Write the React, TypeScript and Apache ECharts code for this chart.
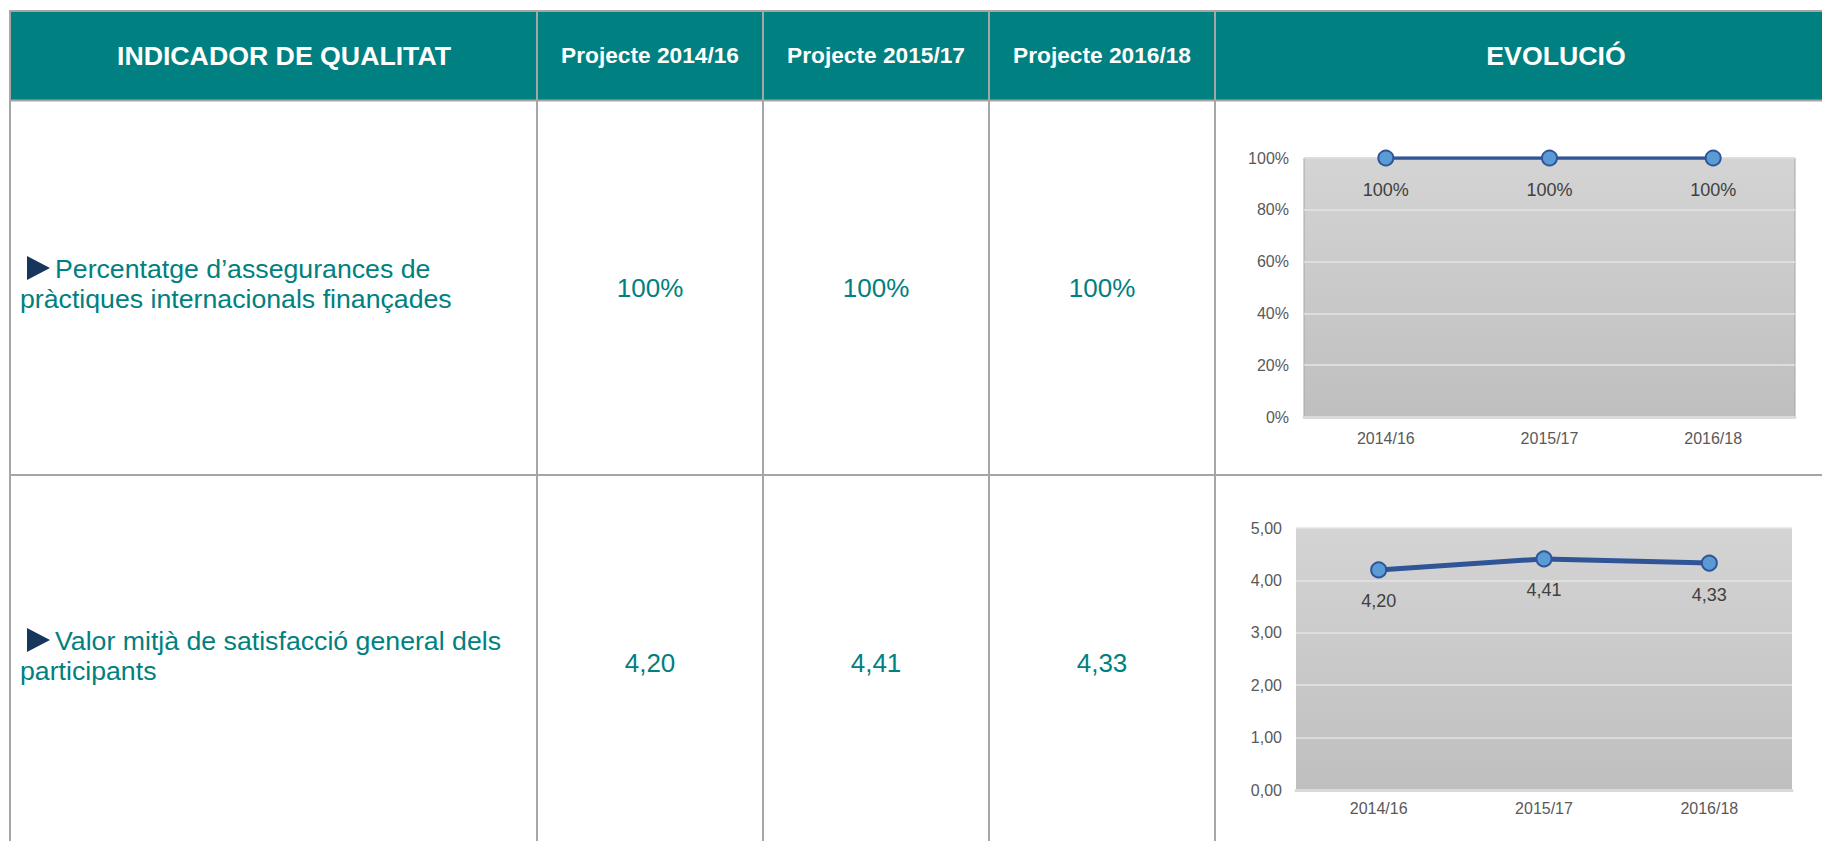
import React, { useEffect, useRef } from "react";
import * as echarts from "echarts";

const categories = ["2014/16", "2015/17", "2016/18"];
const headerLabels = [
  "INDICADOR DE QUALITAT",
  "Projecte 2014/16",
  "Projecte 2015/17",
  "Projecte 2016/18",
  "EVOLUCIÓ",
];
const indicator1Lines = [
  "Percentatge d’assegurances de",
  "pràctiques internacionals finançades",
];
const indicator2Lines = [
  "Valor mitjà de satisfacció general dels",
  "participants",
];
const insuranceValues = [100, 100, 100];
const satisfactionValues = [4.2, 4.41, 4.33];

const FONT = "'Liberation Sans', Arial, Helvetica, sans-serif";
const TEAL = "#008080";
const BORDER = "#a6a6a6";
const LINE_BLUE = "#2f5597";
const MARKER_FILL = "#5b9bd5";

const fmtComma = (v: number) => v.toFixed(2).replace(".", ",");

const colX = [10, 537, 763, 989, 1215, 1830];
const rowY = [11, 100.5, 475, 860];

function text(
  str: string,
  x: number,
  y: number,
  size: number,
  color: string,
  bold: boolean,
  align: string
) {
  return {
    type: "text",
    x,
    y,
    silent: true,
    style: {
      text: str,
      fill: color,
      font: `${bold ? "bold " : ""}${size}px ${FONT}`,
      textAlign: align,
      textVerticalAlign: "middle",
      align,
      verticalAlign: "middle",
    },
  };
}

export default function App() {
  const ref = useRef<HTMLDivElement>(null);

  useEffect(() => {
    if (!ref.current) return;
    const chart = echarts.init(ref.current, undefined, { renderer: "svg" });

    const graphics: any[] = [];
    graphics.push({
      type: "rect",
      silent: true,
      shape: { x: colX[0], y: rowY[0], width: 1822 - colX[0], height: rowY[1] - rowY[0] },
      style: { fill: TEAL },
    });
    rowY.slice(0, 3).forEach((y) => {
      graphics.push({
        type: "line",
        silent: true,
        shape: { x1: colX[0] - 1, y1: y, x2: 1822, y2: y },
        style: { stroke: BORDER, lineWidth: 2 },
      });
    });
    colX.slice(0, 5).forEach((x) => {
      graphics.push({
        type: "line",
        silent: true,
        shape: { x1: x, y1: rowY[0] - 1, x2: x, y2: 841 },
        style: { stroke: BORDER, lineWidth: 2 },
      });
    });
    const headerCenters = [284, 650, 876, 1102, 1556];
    headerLabels.forEach((h, i) => {
      const big = i === 0 || i === 4;
      graphics.push(text(h, headerCenters[i], big ? 56 : 55, big ? 26.7 : 22.7, "#ffffff", true, "center"));
    });

    const rows = [
      { lines: indicator1Lines, base: 278 },
      { lines: indicator2Lines, base: 650 },
    ];
    rows.forEach((r) => {
      graphics.push({
        type: "polygon",
        silent: true,
        shape: {
          points: [
            [27, r.base - 22],
            [27, r.base + 2],
            [50, r.base - 10],
          ],
        },
        style: { fill: "#17365d" },
      });
      graphics.push(text(r.lines[0], 55, r.base - 9.2, 26.7, TEAL, false, "left"));
      graphics.push(text(r.lines[1], 20, r.base + 30 - 9.2, 26.7, TEAL, false, "left"));
    });

    const valueCenters = [650, 876, 1102];
    insuranceValues.forEach((v, i) => {
      graphics.push(text(`${v}%`, valueCenters[i], 288, 26, TEAL, false, "center"));
    });
    satisfactionValues.forEach((v, i) => {
      graphics.push(text(fmtComma(v), valueCenters[i], 663, 26, TEAL, false, "center"));
    });

    const plotBg = {
      type: "linear",
      x: 0,
      y: 0,
      x2: 0,
      y2: 1,
      colorStops: [
        { offset: 0, color: "#d4d4d4" },
        { offset: 1, color: "#bfbfbf" },
      ],
    };

    const axisLabelStyle = { color: "#595959", fontSize: 16, fontFamily: FONT };

    const option: any = {
      animation: false,
      backgroundColor: "#ffffff",
      graphic: { elements: graphics },
      grid: [
        {
          left: 1304,
          top: 158,
          width: 491,
          height: 259,
          show: true,
          backgroundColor: plotBg,
          borderColor: "#a6a6a6",
          borderWidth: 1,
          z: 3,
        },
        {
          left: 1296,
          top: 528,
          width: 496,
          height: 262,
          show: true,
          backgroundColor: plotBg,
          borderWidth: 0,
          z: 3,
        },
      ],
      xAxis: [
        {
          type: "category",
          gridIndex: 0,
          data: categories,
          boundaryGap: true,
          axisTick: { show: false },
          axisLine: { show: true, lineStyle: { color: "#dadada", width: 3 } },
          axisLabel: { ...axisLabelStyle, margin: 13 },
          z: 4,
        },
        {
          type: "category",
          gridIndex: 1,
          data: categories,
          boundaryGap: true,
          axisTick: { show: false },
          axisLine: { show: true, lineStyle: { color: "#dadada", width: 3 } },
          axisLabel: { ...axisLabelStyle, margin: 10 },
          z: 4,
        },
      ],
      yAxis: [
        {
          type: "value",
          gridIndex: 0,
          min: 0,
          max: 100,
          interval: 20,
          axisLine: { show: false },
          axisTick: { show: false },
          axisLabel: { ...axisLabelStyle, margin: 15, formatter: "{value}%" },
          splitLine: { show: true, lineStyle: { color: "#e4e4e4", width: 1.5 } },
          z: 4,
        },
        {
          type: "value",
          gridIndex: 1,
          min: 0,
          max: 5,
          interval: 1,
          axisLine: { show: false },
          axisTick: { show: false },
          axisLabel: { ...axisLabelStyle, margin: 14, formatter: (v: number) => fmtComma(v) },
          splitLine: { show: true, lineStyle: { color: "#e4e4e4", width: 1.5 } },
          z: 4,
        },
      ],
      series: [
        {
          type: "line",
          xAxisIndex: 0,
          yAxisIndex: 0,
          data: insuranceValues,
          symbol: "circle",
          symbolSize: 15,
          lineStyle: { color: LINE_BLUE, width: 3.5 },
          itemStyle: { color: MARKER_FILL, borderColor: LINE_BLUE, borderWidth: 2 },
          label: {
            show: true,
            position: "bottom",
            distance: 14,
            color: "#404040",
            fontSize: 18,
            fontFamily: FONT,
            formatter: (p: any) => `${p.value}%`,
          },
          z: 5,
        },
        {
          type: "line",
          xAxisIndex: 1,
          yAxisIndex: 1,
          data: satisfactionValues,
          symbol: "circle",
          symbolSize: 15,
          lineStyle: { color: LINE_BLUE, width: 5 },
          itemStyle: { color: MARKER_FILL, borderColor: LINE_BLUE, borderWidth: 2 },
          label: {
            show: true,
            position: "bottom",
            distance: 14,
            color: "#404040",
            fontSize: 18,
            fontFamily: FONT,
            formatter: (p: any) => fmtComma(p.value),
          },
          z: 5,
        },
      ],
    };

    chart.setOption(option);
    return () => chart.dispose();
  }, []);

  return (
    <div
      ref={ref}
      style={{
        position: "fixed",
        left: 0,
        top: 0,
        width: "1822px",
        height: "841px",
        background: "#ffffff",
      }}
    />
  );
}
